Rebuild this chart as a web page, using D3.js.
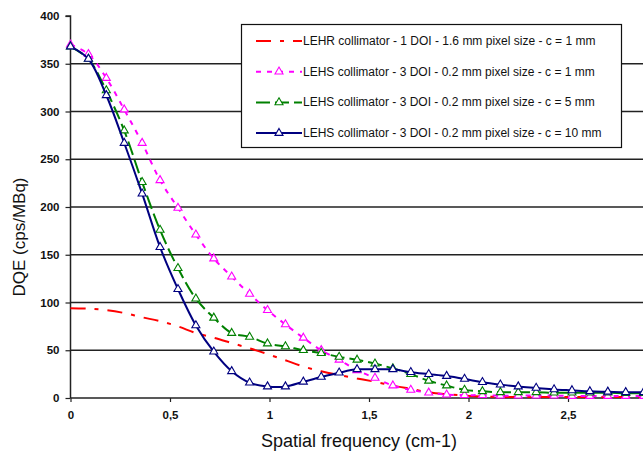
<!DOCTYPE html>
<html><head><meta charset="utf-8">
<script src="https://cdn.jsdelivr.net/npm/d3@7"></script>
<style>body{margin:0;background:#fff}svg{display:block}</style>
</head><body>
<svg id="c" width="643" height="456"></svg>
<script>
const step = 0.09;
const yTicks = [0,50,100,150,200,250,300,350,400];
const xTicks = [0,0.5,1,1.5,2,2.5];
const xTickLabels = ["0","0,5","1","1,5","2","2,5"];
const seriesNames = [
  "LEHR collimator - 1 DOI - 1.6 mm pixel size - c = 1 mm",
  "LEHS collimator - 3 DOI - 0.2 mm pixel size - c = 1 mm",
  "LEHS collimator - 3 DOI - 0.2 mm pixel size - c = 5 mm",
  "LEHS collimator - 3 DOI - 0.2 mm pixel size - c = 10 mm"
];
const lehr1 = [94,93.5,92,89,84.5,80.5,75,68,63,57.5,52,46,39.5,33,28,24,20.5,17,13,9.5,6,4,2.5,1.5,1.2,1,1,1,1,1,1,1,1,1];
const lehs1 = [370,360,335,302,267,228,199,171,146,127,109,92,77,63,50,40,29,21,13,8.5,5.5,3.5,3,3,2.5,2.5,2.5,2.5,2,2,2,2,2,2];
const lehs5 = [368,355,322,280,226,176,136,104,84,68,64,57,54,50,47,43,40,36,31,25,18,13,8.5,7,6,6,6,5.5,5.5,5.5,5.5,5,5,5];
const lehs10 = [368,355,317,267,214,158,114,76,48.5,28,16,12,12,17,22,26.5,30,30,30,27,25,23,20,16.5,14,12,10.5,9,8,7,6.5,6,6,6];

const svg = d3.select("#c");
const x = d3.scaleLinear().domain([0,3]).range([70.5, 667.5]);
const y = d3.scaleLinear().domain([0,400]).range([398, 16]);
const font = "'Liberation Sans', Arial, sans-serif";

// gridlines
svg.append("g").selectAll("line").data(yTicks.filter(d=>d>0 && d<400)).join("line")
  .attr("x1", x(0)).attr("x2", 700).attr("y1", d=>y(d)).attr("y2", d=>y(d))
  .attr("stroke", "#222").attr("stroke-width", 1.3);

// axes
const yAxis = d3.axisLeft(y).tickValues(yTicks).tickSize(5).tickPadding(6);
const gy = svg.append("g").attr("transform", `translate(${x(0)},0)`).call(yAxis);
const xAxis = d3.axisBottom(x).tickValues(xTicks).tickSize(4).tickPadding(9).tickFormat((d,i)=>xTickLabels[i]);
const gx = svg.append("g").attr("transform", `translate(0,${y(0)})`).call(xAxis);
[gx, gy].forEach(g => {
  g.select(".domain").attr("stroke", "#222").attr("stroke-width", 1.5);
  g.selectAll(".tick line").attr("stroke", "#222").attr("stroke-width", 1.2);
  g.selectAll("text").attr("fill", "#111").style("font-family", font).style("font-size", "11.5px").style("font-weight", "bold");
});
gy.select(".domain").attr("d", `M-5,${y(400)}H0V${y(0)}`);
gx.select(".domain").attr("d", `M${x(0)},0H700`);

// titles
svg.append("text").attr("x", 359).attr("y", 447).attr("text-anchor", "middle")
  .style("font-family", font).style("font-size", "18px").attr("fill", "#111").text("Spatial frequency (cm-1)");
svg.append("text").attr("transform", "translate(25,237) rotate(-90)").attr("text-anchor", "middle")
  .style("font-family", font).style("font-size", "17px").attr("fill", "#111").text("DQE (cps/MBq)");

const series = [
  {name: seriesNames[0], vals: lehr1, color: "#ff0000", dash: "15,9,4,9", marker: false, width: 2},
  {name: seriesNames[1], vals: lehs1, color: "#ff00ff", dash: "5,6", marker: true, width: 2},
  {name: seriesNames[2], vals: lehs5, color: "#008000", dash: "14,5", marker: true, width: 2},
  {name: seriesNames[3], vals: lehs10, color: "#000080", dash: null, marker: true, width: 2}
];

const plot = svg.append("g");
const line = d3.line().x((d,i)=>x(i*step)).y(d=>y(d)).curve(d3.curveCatmullRom.alpha(0.5));
const tri = d3.symbol().type(d3.symbolTriangle).size(28);
series.forEach(s => {
  plot.append("path").attr("d", line(s.vals)).attr("fill", "none")
    .attr("stroke", s.color).attr("stroke-width", s.width).attr("stroke-dasharray", s.dash);
  if (s.marker) {
    plot.append("g").selectAll("path").data(s.vals).join("path")
      .attr("transform", (d,i)=>`translate(${x(i*step)},${y(d)})`)
      .attr("d", tri).attr("fill", "white").attr("stroke", s.color).attr("stroke-width", 1.1);
  }
});

// legend
const lg = svg.append("g");
lg.append("rect").attr("x", 241.5).attr("y", 24.5).attr("width", 380).attr("height", 123)
  .attr("fill", "white").attr("stroke", "#111").attr("stroke-width", 1.2);
series.forEach((s,i) => {
  const yy = 41 + i*30.7;
  lg.append("line").attr("x1", 256).attr("x2", 302).attr("y1", yy).attr("y2", yy)
    .attr("stroke", s.color).attr("stroke-width", 2).attr("stroke-dasharray", s.dash);
  if (s.marker) lg.append("path").attr("transform", `translate(279,${yy})`).attr("d", tri)
    .attr("fill", "white").attr("stroke", s.color).attr("stroke-width", 1.1);
  lg.append("text").attr("x", 303).attr("y", yy+4).style("font-family", font).style("font-size", "12px")
    .attr("fill", "#111").text(s.name);
});
</script>
</body></html>
